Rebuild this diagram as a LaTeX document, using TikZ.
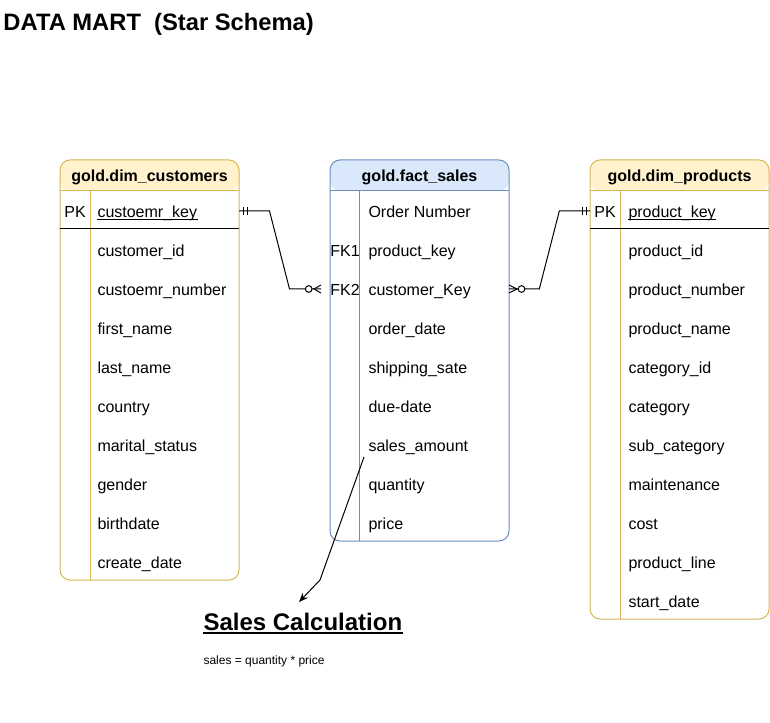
\documentclass[tikz,border=0pt]{standalone}
\usepackage{fontspec}
\setmainfont{Liberation Sans}
\usetikzlibrary{arrows.meta}
\definecolor{custfill}{HTML}{FFF2CC}
\definecolor{custline}{HTML}{D6B656}
\definecolor{factfill}{HTML}{DAE8FC}
\definecolor{factline}{HTML}{6C8EBF}
\tikzset{
  font={\fontsize{12pt}{14pt}\selectfont},
  tablebox/.style 2 args={draw=#2, fill=white, rounded corners=7.5pt,
    anchor=north west, outer sep=0pt, minimum width=134.25pt,
    path picture={\fill[#1] (path picture bounding box.north west)
      rectangle ([yshift=-23.25pt]path picture bounding box.north east);}},
  field/.style={anchor=west, text height=12.25pt, text depth=2.5pt},
  keycol/.style={field, anchor=center},
  head/.style={keycol, font={\fontsize{12pt}{14pt}\selectfont\bfseries}}}

\begin{document}
\begin{tikzpicture}[x=0.75pt,y=-0.75pt,line width=0.75pt]
\tikzstyle{every node}+=[inner sep=0pt]
\useasboundingbox (0,0) rectangle (770,723);
\node [anchor=base west, font={\fontsize{17.8pt}{20pt}\selectfont\bfseries}] (title) at (3,31) {DATA MART\ \ (Star Schema)};
% gold.dim_customers
\node [tablebox={custfill}{custline}, minimum height=315pt] (cust) at (60,160) {};
\draw [custline] ([shift={(0,31)}]cust.north west) -- ([shift={(0,31)}]cust.north east);
\draw [custline] ([shift={(30,31)}]cust.north west) -- ([shift={(30,0)}]cust.south west);
\draw [black] ([shift={(0,69)}]cust.north west) -- ([shift={(0,69)}]cust.north east);
\node [head] (custhead) at (149.5,175.5) {gold.dim\_customers};
\node [keycol] (ck) at (75,211) {PK};
\node [field] (c1) at (97,211) {custoemr\_key};
\draw ([yshift=-1.6pt]c1.base west) -- ([yshift=-1.6pt]c1.base east);
\node [field] (c2) at (97,250) {customer\_id};
\node [field] (c3) at (97,289) {custoemr\_number};
\node [field] (c4) at (97,328) {first\_name};
\node [field] (c5) at (97,367) {last\_name};
\node [field] (c6) at (97,406) {country};
\node [field] (c7) at (97,445) {marital\_status};
\node [field] (c8) at (97,484) {gender};
\node [field] (c9) at (97,523) {birthdate};
\node [field] (c10) at (97,562) {create\_date};
% gold.fact_sales
\node [tablebox={factfill}{factline}, minimum height=285.75pt] (fact) at (330,160) {};
\draw [factline] ([shift={(0,31)}]fact.north west) -- ([shift={(0,31)}]fact.north east);
\draw [factline] ([shift={(29,31)}]fact.north west) -- ([shift={(29,0)}]fact.south west);
\node [head] (facthead) at (419.5,175.5) {gold.fact\_sales};
\node [field] (f1) at (368,211) {Order Number};
\node [keycol] (fk1) at (345,250) {FK1};
\node [field] (f2) at (368,250) {product\_key};
\node [keycol] (fk2) at (345,289) {FK2};
\node [field] (f3) at (368,289) {customer\_Key};
\node [field] (f4) at (368,328) {order\_date};
\node [field] (f5) at (368,367) {shipping\_sate};
\node [field] (f6) at (368,406) {due-date};
\node [field] (f7) at (368,445) {sales\_amount};
\node [field] (f8) at (368,484) {quantity};
\node [field] (f9) at (368,523) {price};
% gold.dim_products
\node [tablebox={custfill}{custline}, minimum height=344.25pt] (prod) at (590,160) {};
\draw [custline] ([shift={(0,31)}]prod.north west) -- ([shift={(0,31)}]prod.north east);
\draw [custline] ([shift={(30,31)}]prod.north west) -- ([shift={(30,0)}]prod.south west);
\draw [black] ([shift={(0,69)}]prod.north west) -- ([shift={(0,69)}]prod.north east);
\node [head] (prodhead) at (679.5,175.5) {gold.dim\_products};
\node [keycol] (pk) at (605,211) {PK};
\node [field] (p1) at (628,211) {product\_key};
\draw ([yshift=-1.6pt]p1.base west) -- ([yshift=-1.6pt]p1.base east);
\node [field] (p2) at (628,250) {product\_id};
\node [field] (p3) at (628,289) {product\_number};
\node [field] (p4) at (628,328) {product\_name};
\node [field] (p5) at (628,367) {category\_id};
\node [field] (p6) at (628,406) {category};
\node [field] (p7) at (628,445) {sub\_category};
\node [field] (p8) at (628,484) {maintenance};
\node [field] (p9) at (628,523) {cost};
\node [field] (p10) at (628,562) {product\_line};
\node [field] (p11) at (628,601) {start\_date};
% customers -> fact
\coordinate (ce) at (cust.east |- ck);
\path (fact.west |- fk2) ++(-9,0) coordinate (fw);
\draw (ce) -- ++(30.5,0) -- ++(20,78) -- (fw);
\draw (ce) ++(4,-4) -- ++(0,8);
\draw (ce) ++(8,-4) -- ++(0,8);
\draw [fill=white] (fw) ++(-12.3,0) circle (2.5pt);
\draw (fw) ++(0,-4) -- ++(-7,4) -- ++(7,4);
% fact -> products
\coordinate (fe) at (fact.east |- fk2);
\coordinate (pw) at (prod.west |- pk);
\draw (fe) -- ++(30.3,0) -- ++(20,-78) -- (pw);
\draw (pw) ++(-4,-4) -- ++(0,8);
\draw (pw) ++(-8,-4) -- ++(0,8);
\draw [fill=white] (fe) ++(12.5,0) circle (2.5pt);
\draw (fe) ++(0,-4) -- ++(8,4) -- ++(-8,4);
% sales calculation
\node [anchor=base west, font={\fontsize{18pt}{20pt}\selectfont\bfseries}] (calc) at (203,630) {Sales Calculation};
\draw [line width=1.3pt] ([yshift=-2.4pt]calc.base west) -- ([yshift=-2.4pt]calc.base east);
\node [anchor=base west, font={\fontsize{9pt}{11pt}\selectfont}] (formula) at (203,664) {sales = quantity * price};
\path (f7.west) ++(-4,12) coordinate (atail);
\coordinate (abend) at (320,580);
\coordinate (ahead) at (299,602);
\draw [-{Stealth[length=7pt,width=5.5pt]}] (atail) -- (abend) -- (ahead);
\end{tikzpicture}
\end{document}
